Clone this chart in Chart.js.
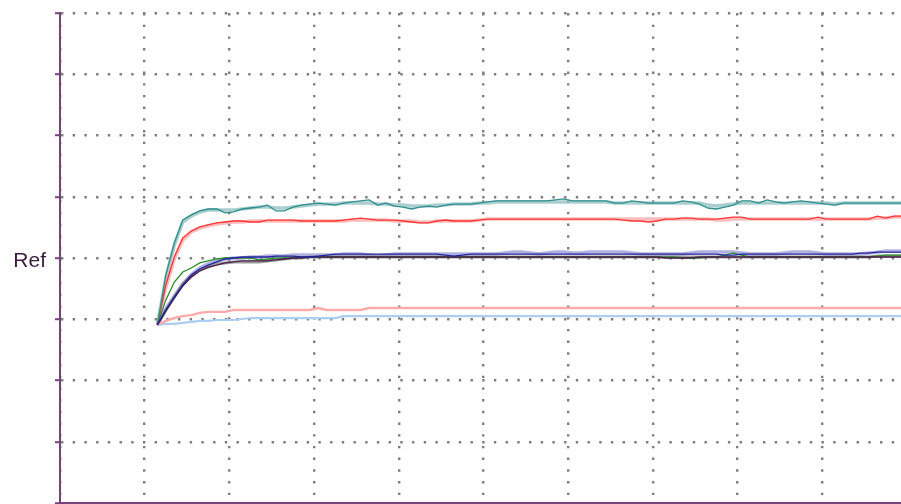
<!DOCTYPE html>
<html>
<head>
<meta charset="utf-8">
<script src="https://cdn.jsdelivr.net/npm/chart.js@4.4.1/dist/chart.umd.min.js"></script>
<style>
  html, body { margin: 0; padding: 0; background: #fff; }
  #wrap { width: 901px; height: 504px; }
</style>
</head>
<body>
<div id="wrap"><canvas id="chart"></canvas></div>
<script>
// sample positions (x axis units, gridline every 10)
const times = [11.5, 12.5, 13.5, 14.5, 15.5, 16.5, 17.5, 18.5, 19.5, 20.5,
    21.5, 22.5, 23.5, 24.5, 25.5, 26.5, 27.5, 28.5, 29.5, 30.5,
    31.5, 32.5, 33.5, 34.5, 35.5, 36.5, 37.5, 38.5, 39.5, 40.5,
    41.5, 42.5, 43.5, 44.5, 45.5, 46.5, 47.5, 48.5, 49.5, 50.5,
    51.5, 52.5, 53.5, 54.5, 55.5, 56.5, 57.5, 58.5, 59.5, 60.5,
    61.5, 62.5, 63.5, 64.5, 65.5, 66.5, 67.5, 68.5, 69.5, 70.5,
    71.5, 72.5, 73.5, 74.5, 75.5, 76.5, 77.5, 78.5, 79.5, 80.5,
    81.5, 82.5, 83.5, 84.5, 85.5, 86.5, 87.5, 88.5, 89.5, 90.5,
    91.5, 92.5, 93.5, 94.5, 95.5, 96.5, 97.5, 98.5, 99.5];

// y ticks (only the reference level is labelled)
const yTicks = [0, 25, 50, 75, 100, 125, 150, 175, 200];
const refValue = 100;
const refLabel = 'Ref';

const tealDark = [72.7, 93.1, 106.1, 115.5, 117.6, 119.2, 120.0, 120.0, 118.4, 118.8,
    120.0, 120.4, 120.8, 121.6, 119.2, 119.2, 120.8, 121.6, 122.0, 122.4,
    122.0, 121.6, 122.4, 122.9, 123.3, 123.7, 121.6, 122.4, 121.2, 120.8,
    120.0, 120.8, 121.2, 120.8, 121.6, 122.0, 122.0, 122.0, 122.4, 122.9,
    123.3, 123.3, 123.3, 123.3, 123.3, 123.3, 123.3, 123.7, 124.1, 123.3,
    123.3, 123.3, 123.3, 123.3, 122.4, 122.4, 123.3, 122.9, 122.4, 122.4,
    122.4, 122.4, 123.3, 122.9, 122.0, 120.4, 120.0, 120.8, 121.6, 123.3,
    123.3, 122.4, 123.7, 122.9, 122.4, 122.9, 123.3, 122.9, 122.4, 122.0,
    121.6, 122.4, 122.4, 122.4, 122.4, 122.4, 122.4, 122.4, 122.4];

const tealPale = [72.7, 92.0, 105.3, 114.7, 117.1, 118.8, 119.6, 119.6, 119.6, 119.6,
    120.0, 120.4, 120.8, 120.8, 120.4, 120.4, 120.8, 121.2, 121.6, 122.0,
    122.0, 122.0, 122.4, 122.4, 122.4, 122.4, 122.0, 122.0, 121.6, 121.6,
    121.2, 121.2, 121.2, 121.6, 121.6, 122.0, 122.0, 122.0, 122.4, 122.4,
    122.9, 122.9, 122.9, 122.9, 122.9, 122.9, 122.9, 122.9, 122.9, 122.9,
    122.9, 122.9, 122.9, 122.9, 122.4, 122.4, 122.4, 122.4, 122.4, 122.4,
    122.4, 122.4, 122.4, 122.4, 122.4, 121.6, 121.2, 121.6, 122.0, 122.4,
    122.4, 122.4, 122.4, 122.4, 122.4, 122.4, 122.4, 122.4, 122.4, 122.4,
    122.0, 122.4, 122.4, 122.4, 122.4, 122.4, 122.4, 122.4, 122.4];

const redLine = [72.7, 89.0, 100.4, 108.2, 111.0, 112.7, 113.5, 114.3, 114.7, 115.1,
    115.1, 114.7, 114.7, 115.5, 115.5, 115.5, 115.5, 115.1, 115.1, 115.1,
    115.1, 115.1, 115.5, 115.9, 116.3, 115.9, 115.5, 115.5, 115.5, 115.1,
    114.7, 114.3, 114.3, 115.1, 115.5, 115.1, 115.1, 115.1, 115.5, 115.9,
    115.9, 115.9, 115.9, 115.9, 115.9, 115.9, 115.9, 115.9, 115.9, 115.9,
    115.9, 115.9, 115.9, 115.9, 115.9, 115.5, 115.1, 115.1, 114.7, 115.1,
    115.9, 115.9, 116.3, 116.3, 115.9, 115.9, 115.9, 116.3, 116.7, 116.7,
    115.9, 115.9, 115.9, 115.9, 115.9, 115.9, 115.9, 115.9, 116.7, 115.9,
    115.9, 115.9, 115.9, 115.9, 115.9, 117.1, 116.3, 117.1, 117.1];

const redPale = [72.7, 88.0, 99.6, 107.3, 110.6, 112.2, 113.1, 113.9, 114.3, 114.7,
    114.7, 115.1, 115.1, 115.1, 115.1, 115.1, 115.1, 115.1, 115.1, 115.1,
    115.1, 115.1, 115.1, 115.5, 115.5, 115.5, 115.5, 115.5, 115.1, 115.1,
    115.1, 114.7, 114.7, 115.1, 115.1, 115.1, 115.1, 115.1, 115.5, 115.9,
    115.9, 115.9, 115.9, 115.9, 115.9, 115.9, 115.9, 115.9, 115.9, 115.9,
    115.9, 115.9, 115.9, 115.9, 115.9, 115.9, 115.9, 115.9, 115.9, 115.9,
    115.9, 115.9, 115.9, 115.9, 115.9, 115.9, 115.5, 115.5, 115.9, 115.9,
    115.9, 115.9, 115.9, 115.9, 115.9, 115.9, 115.9, 115.9, 115.9, 115.9,
    115.9, 115.9, 115.9, 115.9, 115.9, 116.3, 116.3, 116.7, 116.7];

const blueDark = [72.7, 78.8, 84.1, 89.0, 93.1, 95.5, 97.1, 98.4, 99.6, 100.0,
    100.4, 100.4, 100.4, 100.4, 100.8, 100.8, 100.8, 100.4, 100.4, 100.8,
    101.2, 101.6, 101.6, 101.6, 101.6, 101.6, 101.6, 101.6, 101.6, 101.6,
    101.6, 101.6, 101.6, 101.6, 101.2, 100.8, 101.2, 101.6, 101.6, 101.6,
    101.6, 101.6, 101.6, 101.6, 101.6, 101.6, 101.6, 101.6, 101.6, 101.6,
    101.6, 101.6, 101.6, 101.6, 101.6, 101.6, 101.6, 101.6, 101.6, 101.6,
    101.6, 101.6, 101.6, 101.6, 101.6, 101.6, 101.6, 101.2, 101.2, 101.6,
    101.6, 101.6, 101.6, 101.6, 101.6, 101.6, 101.6, 101.6, 101.6, 101.6,
    101.6, 101.6, 101.6, 102.0, 102.0, 102.4, 102.4, 102.4, 102.4];

const lavender = [72.7, 79.2, 84.5, 89.4, 93.1, 95.9, 97.6, 98.8, 99.6, 100.0,
    100.0, 100.4, 100.4, 100.8, 100.8, 100.8, 101.2, 101.2, 101.2, 101.2,
    101.2, 101.2, 101.6, 101.6, 101.6, 101.2, 100.8, 101.2, 101.6, 101.6,
    101.6, 101.6, 101.6, 101.6, 101.6, 101.6, 101.6, 101.6, 101.6, 101.6,
    101.6, 102.0, 102.4, 102.4, 102.0, 101.6, 102.0, 102.4, 102.4, 102.0,
    102.0, 102.4, 102.4, 102.4, 102.4, 102.4, 102.0, 101.6, 101.6, 101.6,
    101.6, 101.6, 101.6, 102.0, 102.4, 102.4, 102.4, 102.4, 102.4, 102.0,
    101.6, 101.6, 101.6, 101.6, 102.0, 102.4, 102.4, 102.4, 102.0, 101.6,
    101.6, 101.6, 101.6, 101.6, 102.0, 102.4, 102.9, 102.9, 102.9];

const greenLine = [72.7, 82.9, 90.2, 94.3, 95.9, 98.0, 98.8, 99.6, 100.0, 100.0,
    100.0, 100.0, 99.2, 99.6, 100.0, 100.0, 100.0, 100.4, 100.4, 100.4,
    100.4, 100.4, 100.4, 100.4, 100.4, 100.4, 100.4, 100.4, 100.4, 100.4,
    100.4, 100.4, 100.4, 100.4, 100.4, 100.4, 100.4, 100.4, 100.4, 100.4,
    100.4, 100.4, 100.4, 100.4, 100.4, 100.4, 100.4, 100.4, 100.4, 100.4,
    100.4, 100.4, 100.4, 100.4, 100.4, 100.4, 100.4, 100.4, 100.4, 100.4,
    100.4, 100.4, 100.0, 100.0, 100.0, 100.4, 100.4, 101.2, 102.0, 101.2,
    100.4, 100.4, 100.4, 100.4, 100.4, 100.4, 100.4, 100.4, 100.4, 100.4,
    100.4, 100.4, 100.4, 100.4, 100.4, 100.8, 101.2, 101.2, 101.2];

const purpleLine = [72.7, 78.4, 83.7, 88.6, 92.2, 94.7, 96.3, 97.1, 98.0, 98.4,
    98.8, 98.8, 98.8, 98.8, 99.2, 99.6, 100.0, 100.0, 100.4, 100.4,
    100.4, 100.4, 100.4, 100.4, 100.4, 100.4, 100.4, 100.4, 100.4, 100.4,
    100.4, 100.4, 100.4, 100.4, 100.4, 100.4, 100.4, 100.4, 100.4, 100.4,
    100.4, 100.4, 100.4, 100.4, 100.4, 100.4, 100.4, 100.4, 100.4, 100.4,
    100.4, 100.4, 100.4, 100.4, 100.4, 100.4, 100.4, 100.4, 100.4, 100.4,
    100.0, 100.0, 100.0, 100.0, 100.4, 100.4, 100.4, 100.4, 100.4, 100.4,
    100.4, 100.4, 100.4, 100.4, 100.4, 100.4, 100.4, 100.4, 100.4, 100.4,
    100.4, 100.4, 100.4, 100.4, 100.4, 100.4, 100.4, 100.4, 100.4];

const grayLine = [72.7, 78.8, 84.1, 89.4, 92.7, 95.1, 96.3, 97.6, 98.0, 98.4,
    98.4, 98.4, 98.4, 98.8, 99.2, 99.6, 100.0, 100.0, 100.4, 100.4,
    100.4, 100.4, 100.4, 100.4, 100.4, 100.4, 100.4, 100.4, 100.4, 100.4,
    100.4, 100.4, 100.4, 100.4, 100.4, 100.4, 100.4, 100.4, 100.4, 100.4,
    100.4, 100.4, 100.4, 100.4, 100.4, 100.4, 100.4, 100.4, 100.4, 100.4,
    100.4, 100.4, 100.4, 100.4, 100.4, 100.4, 100.4, 100.4, 100.4, 100.4,
    100.4, 100.4, 100.4, 100.4, 100.4, 100.4, 100.4, 100.4, 100.4, 100.4,
    100.4, 100.4, 100.4, 100.4, 100.4, 100.4, 100.4, 100.4, 100.4, 100.4,
    100.4, 100.4, 100.4, 100.4, 100.4, 100.8, 100.8, 100.8, 100.8];

const pinkLow = [72.7, 74.3, 75.5, 76.3, 76.7, 77.6, 78.0, 78.0, 78.0, 78.8,
    78.8, 78.8, 78.8, 78.8, 78.8, 78.8, 78.8, 78.8, 78.8, 79.6,
    78.8, 78.8, 78.8, 78.8, 78.8, 79.6, 79.6, 79.6, 79.6, 79.6,
    79.6, 79.6, 79.6, 79.6, 79.6, 79.6, 79.6, 79.6, 79.6, 79.6,
    79.6, 79.6, 79.6, 79.6, 79.6, 79.6, 79.6, 79.6, 79.6, 79.6,
    79.6, 79.6, 79.6, 79.6, 79.6, 79.6, 79.6, 79.6, 79.6, 79.6,
    79.6, 79.6, 79.6, 79.6, 79.6, 79.6, 79.6, 79.6, 79.6, 79.6,
    79.6, 79.6, 79.6, 79.6, 79.6, 79.6, 79.6, 79.6, 79.6, 79.6,
    79.6, 79.6, 79.6, 79.6, 79.6, 79.6, 79.6, 79.6, 79.6];

const blueLow = [72.7, 73.1, 73.1, 73.5, 73.9, 74.3, 74.3, 74.7, 74.7, 74.7,
    75.1, 75.5, 75.5, 75.5, 75.5, 75.5, 75.5, 75.5, 75.5, 75.5,
    75.5, 75.5, 76.3, 76.3, 76.3, 76.3, 76.3, 76.3, 76.3, 76.3,
    76.3, 76.3, 76.3, 76.3, 76.3, 76.3, 76.3, 76.3, 76.3, 76.3,
    76.3, 76.3, 76.3, 76.3, 76.3, 76.3, 76.3, 76.3, 76.3, 76.3,
    76.3, 76.3, 76.3, 76.3, 76.3, 76.3, 76.3, 76.3, 76.3, 76.3,
    76.3, 76.3, 76.3, 76.3, 76.3, 76.3, 76.3, 76.3, 76.3, 76.3,
    76.3, 76.3, 76.3, 76.3, 76.3, 76.3, 76.3, 76.3, 76.3, 76.3,
    76.3, 76.3, 76.3, 76.3, 76.3, 76.3, 76.3, 76.3, 76.3];

const axisColor = '#74437a';
const gridColor = '#7d7d7d';

function line(values, color, width, order) {
    return {
        data: values.map((v, i) => ({ x: times[i], y: v })),
        borderColor: color,
        borderWidth: width,
        pointRadius: 0,
        tension: 0,
        fill: false,
        order: order
    };
}

new Chart(document.getElementById('chart'), {
    type: 'line',
    data: {
        datasets: [
            line(tealPale, 'rgba(140,190,190,0.75)', 3.5, 20),
            line(redPale, 'rgba(255,160,160,0.7)', 3.5, 20),
            line(lavender, 'rgba(150,150,215,0.75)', 3.5, 19),
            line(grayLine, 'rgba(130,130,130,0.8)', 3, 18),
            line(pinkLow, '#ffaaaa', 2.4, 15),
            line(blueLow, '#aecdf2', 2.2, 15),
            line(tealDark, '#2e8d8d', 1.3, 5),
            line(redLine, '#ff3535', 1.3, 5),
            line(greenLine, '#2c8a2c', 1.3, 4),
            line(purpleLine, '#4a1b4a', 1.3, 3),
            line(blueDark, '#22229e', 1.3, 2)
        ]
    },
    options: {
        responsive: true,
        maintainAspectRatio: false,
        animation: false,
        layout: { padding: { top: 13, right: 0, bottom: 1, left: 0 } },
        plugins: {
            legend: { display: false },
            tooltip: { enabled: false }
        },
        scales: {
            x: {
                type: 'linear',
                min: 0,
                max: 99.3,
                afterBuildTicks: (scale) => {
                    scale.ticks = scale.ticks.filter(t => t.value % 10 === 0);
                },
                afterFit: (scale) => {
                    scale.height = 0;
                    scale.paddingLeft = 0;
                    scale.paddingRight = 0;
                },
                ticks: { display: false, stepSize: 10 },
                grid: {
                    color: gridColor,
                    lineWidth: 2.4,
                    drawTicks: false
                },
                border: { display: true, color: axisColor, width: 2, dash: [2.4, 9.3] }
            },
            y: {
                min: 0,
                max: 200,
                afterBuildTicks: (scale) => {
                    scale.ticks = yTicks.map(v => ({ value: v }));
                },
                afterFit: (scale) => {
                    scale.width = 60;
                    scale.paddingTop = 0;
                    scale.paddingBottom = 0;
                },
                ticks: {
                    padding: 9,
                    labelOffset: 3,
                    color: '#3a1d3e',
                    font: { family: 'Liberation Sans, Arial, sans-serif', size: 21 },
                    callback: (v) => (v === refValue ? refLabel : '')
                },
                grid: {
                    color: (ctx) => (ctx.tick && ctx.tick.value === 0 ? 'rgba(0,0,0,0)' : gridColor),
                    lineWidth: 2.4,
                    tickColor: axisColor,
                    tickLength: 5,
                    tickWidth: 2
                },
                border: { display: true, color: axisColor, width: 2, dash: [2.4, 9.3] }
            }
        }
    }
});
</script>
</body>
</html>
